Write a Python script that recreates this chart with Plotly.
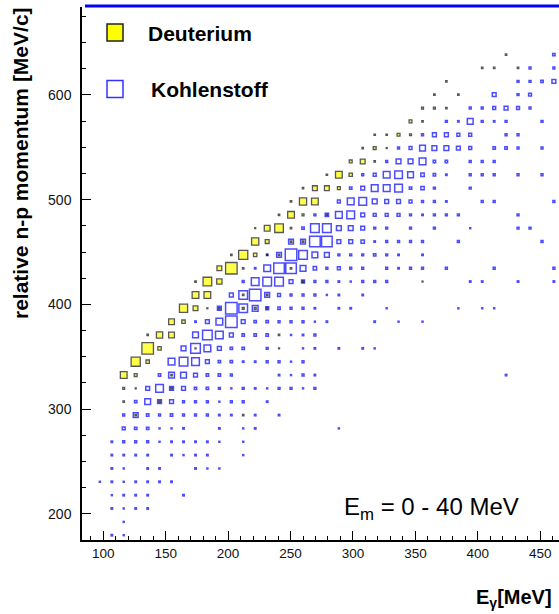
import plotly.graph_objects as go

# ---- bin centres of the 2-D histogram --------------------------------------
EG_BINS = [97.3, 106.9, 116.4, 126.0, 135.6, 145.1, 154.7, 164.3, 173.9, 183.4,
           193.0, 202.6, 212.1, 221.7, 231.3, 240.8, 250.4, 260.0, 269.5, 279.1,
           288.7, 298.2, 307.8, 317.4, 327.0, 336.5, 346.1, 355.7, 365.2, 374.8,
           384.4, 393.9, 403.5, 413.1, 422.6, 432.2, 441.8, 451.4, 460.9]
# momentum bins, listed from the top row (index 0) downwards
P_BINS = [638.5, 625.8, 613.0, 600.3, 587.5, 574.8, 562.0, 549.3, 536.5, 523.8,
          511.0, 498.3, 485.5, 472.8, 460.0, 447.3, 434.5, 421.8, 409.0, 396.3,
          383.5, 370.8, 358.0, 345.3, 332.5, 319.8, 307.1, 294.3, 281.6, 268.8,
          256.1, 243.3, 230.6, 217.8, 205.1, 192.3, 179.6]

# ---- Deuterium: momentum-bin index, Eγ-bin index, bin content ------------
DEUT_P_IDX = [0,
              1, 1, 1,
              2,
              3, 3,
              4, 4, 4,
              5, 5,
              6, 6, 6, 6,
              7, 7, 7,
              8, 8, 8,
              9, 9, 9,
              10, 10, 10, 10,
              11, 11, 11,
              12, 12, 12, 12,
              13, 13, 13, 13,
              14, 14, 14, 14,
              15, 15, 15, 15, 15,
              16, 16, 16, 16,
              17, 17, 17, 17, 17,
              18, 18, 18, 18,
              19, 19, 19, 19, 19, 19, 19,
              20, 20,
              21, 21, 21, 21,
              22, 22, 22, 22,
              23, 23,
              24, 24, 24,
              25, 25, 25,
              26, 26,
              27, 27]
DEUT_EG_IDX = [34,
               32, 33, 35,
               29,
               28, 30,
               27, 28, 29,
               26, 27,
               23, 24, 25, 26,
               22, 23, 24,
               21, 22, 23,
               19, 20, 21,
               17, 18, 19, 20,
               16, 17, 18,
               15, 16, 17, 19,
               13, 14, 15, 16,
               13, 14, 16, 17,
               11, 12, 13, 14, 15,
               10, 11, 12, 16,
               8, 9, 10, 17, 27,
               8, 9, 12, 14,
               7, 8, 9, 10, 12, 13, 14,
               6, 7,
               4, 5, 6, 15,
               4, 5, 8, 15,
               3, 4,
               2, 3, 6,
               2, 3, 6,
               2, 5,
               3, 12]
DEUT_CONTENT = [3,
                3, 3, 3,
                3,
                3, 3,
                4, 4, 3,
                6, 3,
                3, 3, 6, 4,
                3, 6, 2,
                6, 10, 3,
                3, 14, 7,
                3, 10, 10, 6,
                3, 15, 14,
                3, 14, 4, 2,
                2, 12, 18, 3,
                15, 8, 3, 3,
                3, 19, 7, 2, 3,
                10, 24, 3, 3,
                3, 18, 11, 3, 2,
                14, 14, 3, 3,
                17, 10, 2, 3, 4, 4, 2,
                12, 7,
                3, 13, 12, 3,
                24, 7, 2, 2,
                19, 7,
                14, 6, 3,
                4, 2, 3,
                3, 3,
                3, 3]

# ---- Kohlenstoff (carbon) ---------------------------------------------------
C_P_IDX = ([0] + [1] * 2 + [2] * 4 + [3] * 3 + [4] * 6 + [5] * 7 + [6] * 7
           + [7] * 11 + [8] * 9 + [9] * 13 + [10] * 9 + [11] * 13 + [12] * 14
           + [13] * 13 + [14] * 14 + [15] * 13 + [16] * 17 + [17] * 17
           + [18] * 11 + [19] * 15 + [20] * 15 + [21] * 10 + [22] * 12
           + [23] * 12 + [24] * 12 + [25] * 15 + [26] * 11 + [27] * 12
           + [28] * 10 + [29] * 11 + [30] * 9 + [31] * 7 + [32] * 7 + [33] * 5
           + [34] * 4 + [35] * 1 + [36] * 2)
C_EG_IDX = [38,
            36, 38,
            35, 36, 37, 38,
            33, 35, 36,
            31, 32, 33, 34, 35, 36,
            29, 30, 31, 32, 33, 34, 37,
            27, 28, 29, 30, 31, 34, 35,
            25, 26, 27, 28, 29, 30, 31, 33, 34, 35, 37,
            24, 25, 26, 27, 28, 29, 31, 32, 33,
            22, 23, 24, 25, 26, 27, 28, 29, 31, 32, 33, 35, 37,
            21, 22, 23, 24, 25, 26, 27, 28, 31,
            20, 21, 22, 23, 24, 25, 26, 27, 28, 29, 32, 33, 38,
            18, 19, 20, 21, 22, 23, 24, 25, 26, 27, 28, 29, 30, 35,
            17, 18, 19, 20, 21, 22, 23, 24, 26, 28, 31, 35, 36,
            16, 17, 18, 19, 20, 21, 22, 23, 24, 25, 26, 27, 30, 37,
            14, 15, 16, 17, 18, 19, 20, 21, 22, 23, 24, 25, 27,
            13, 14, 15, 16, 17, 18, 19, 20, 21, 22, 24, 25, 26, 27, 29, 33, 38,
            12, 13, 14, 15, 16, 17, 18, 19, 20, 21, 22, 23, 24, 31, 32, 35, 38,
            11, 12, 13, 14, 15, 16, 17, 18, 19, 20, 22,
            10, 11, 12, 13, 14, 15, 16, 17, 18, 20, 21, 24, 30, 32, 33,
            8, 9, 10, 11, 12, 13, 14, 15, 16, 17, 18, 19, 23, 25, 27,
            8, 9, 10, 11, 12, 13, 14, 16, 17, 18,
            7, 8, 9, 10, 11, 12, 14, 17, 18, 20, 22, 23,
            6, 7, 8, 9, 10, 11, 12, 13, 14, 15, 16, 17,
            5, 6, 7, 8, 9, 10, 11, 15, 16, 17, 18, 34,
            4, 5, 6, 7, 8, 9, 10, 11, 12, 13, 14, 15, 16, 17, 18,
            3, 4, 5, 6, 7, 8, 9, 10, 11, 12, 14,
            2, 3, 4, 5, 6, 7, 8, 9, 10, 11, 13, 15,
            2, 3, 4, 5, 6, 7, 10, 12, 13, 20,
            1, 2, 3, 4, 5, 6, 7, 8, 9, 10, 12,
            1, 2, 3, 4, 6, 7, 8, 9, 12,
            1, 2, 4, 5, 8, 9, 10,
            0, 1, 2, 3, 4, 5, 6,
            1, 2, 3, 4, 7,
            1, 2, 3, 4,
            2,
            1, 2]
C_CONTENT = [5,
             4, 4,
             4, 4, 5, 8,
             8, 4, 6,
             4, 4, 6, 8, 6, 4,
             4, 3, 12, 4, 3, 4, 4,
             4, 8, 8, 6, 6, 4, 4,
             4, 6, 12, 10, 10, 8, 6, 5, 5, 4, 4,
             4, 10, 10, 14, 5, 5, 4, 4, 4,
             4, 6, 14, 16, 12, 7, 5, 3, 4, 4, 4, 4, 4,
             5, 8, 14, 14, 16, 5, 7, 4, 4,
             6, 14, 16, 10, 8, 8, 6, 4, 4, 3, 4, 4, 4,
             4, 7, 14, 16, 8, 6, 6, 6, 4, 3, 4, 4, 4, 4,
             5, 18, 18, 10, 10, 8, 4, 4, 4, 4, 2, 4, 4,
             10, 10, 22, 22, 8, 8, 7, 3, 4, 4, 4, 4, 4, 4,
             3, 10, 24, 18, 12, 10, 4, 4, 4, 5, 4, 3, 3,
             3, 14, 22, 22, 12, 7, 4, 6, 4, 4, 4, 3, 4, 4, 4, 4, 4,
             4, 16, 18, 18, 8, 6, 4, 4, 3, 2, 4, 4, 4, 3, 3, 3, 3,
             8, 18, 24, 10, 6, 4, 4, 4, 2, 3, 3,
             8, 24, 18, 12, 6, 5, 4, 4, 3, 3, 3, 2, 2, 2, 2,
             3, 8, 14, 24, 8, 5, 5, 4, 4, 4, 2, 3, 3, 2, 2,
             12, 20, 16, 8, 5, 5, 5, 2, 3, 4,
             10, 20, 14, 8, 5, 5, 4, 2, 3, 3, 3, 2,
             14, 18, 16, 8, 5, 5, 3, 3, 4, 4, 2, 4,
             5, 12, 12, 8, 5, 5, 4, 3, 2, 4, 3, 3,
             8, 16, 8, 8, 5, 5, 4, 2, 4, 3, 2, 4, 4, 2, 4,
             5, 12, 8, 8, 4, 4, 4, 2, 4, 4, 3,
             4, 10, 5, 4, 5, 4, 4, 4, 3, 3, 3, 3,
             6, 5, 5, 2, 2, 3, 3, 2, 3, 2,
             3, 4, 4, 4, 2, 3, 3, 3, 3, 2, 2,
             3, 3, 3, 3, 3, 2, 3, 3, 2,
             3, 2, 3, 3, 3, 2, 2,
             2, 3, 2, 3, 3, 3, 3,
             2, 3, 3, 3, 3,
             3, 2, 3, 3,
             2,
             3, 2]

SIZE_PER_COUNT = 0.48   # px of box side per unit of bin content

# ---- figure geometry (pixels) ------------------------------------------
W, H = 559, 614
ML, MR, MT, MB = 82, 0, 7, 74
PW, PH = W - ML - MR, H - MT - MB


def px(x):
    return (x - ML) / PW


def py(y):
    return (H - MB - y) / PH


FONT = "Liberation Sans, Arial, Helvetica, sans-serif"

fig = go.Figure()
fig.add_trace(go.Scatter(
    x=[EG_BINS[i] for i in C_EG_IDX],
    y=[P_BINS[j] for j in C_P_IDX],
    mode="markers", name="Kohlenstoff", showlegend=False,
    marker=dict(symbol="square-open", color="#0000ff",
                size=[c * SIZE_PER_COUNT for c in C_CONTENT],
                line=dict(width=1.5, color="#0000ff")),
    hoverinfo="skip"))
fig.add_trace(go.Scatter(
    x=[EG_BINS[i] for i in DEUT_EG_IDX],
    y=[P_BINS[j] for j in DEUT_P_IDX],
    mode="markers", name="Deuterium", showlegend=False,
    marker=dict(symbol="square", color="#ffff00",
                size=[c * SIZE_PER_COUNT for c in DEUT_CONTENT],
                line=dict(width=1.3, color="#111111")),
    hoverinfo="skip"))

shapes = [
    # blue top border line
    dict(type="line", xref="paper", yref="paper", x0=px(85), x1=px(559),
         y0=py(6), y1=py(6), line=dict(color="#0000ff", width=3)),
    # legend boxes
    dict(type="rect", xref="paper", yref="paper", x0=px(107), x1=px(123),
         y0=py(41), y1=py(24), fillcolor="#ffff00",
         line=dict(color="#222222", width=1.5)),
    dict(type="rect", xref="paper", yref="paper", x0=px(107), x1=px(123),
         y0=py(97.5), y1=py(80.5), fillcolor="rgba(0,0,0,0)",
         line=dict(color="#3333ff", width=1.5)),
]

annotations = [
    dict(text="Deuterium", x=px(146), y=py(33.5), xref="paper", yref="paper",
         xanchor="left", yanchor="middle", showarrow=False,
         font=dict(family=FONT, size=21, color="black", weight="bold")),
    dict(text="Kohlenstoff", x=px(149), y=py(90), xref="paper", yref="paper",
         xanchor="left", yanchor="middle", showarrow=False,
         font=dict(family=FONT, size=21, color="black", weight="bold")),
    dict(text="E<sub>m</sub> = 0 - 40 MeV", x=px(342), y=py(508),
         xref="paper", yref="paper", xanchor="left", yanchor="middle",
         showarrow=False, font=dict(family=FONT, size=24, color="black")),
    dict(text="relative n-p momentum [MeV/c]", x=px(20), y=py(163),
         xref="paper", yref="paper", xanchor="center", yanchor="middle",
         textangle=-90, showarrow=False,
         font=dict(family=FONT, size=21, color="black", weight="bold")),
    dict(text="E<sub>γ</sub>[MeV]", x=px(554), y=py(598), xref="paper",
         yref="paper", xanchor="right", yanchor="middle", showarrow=False,
         font=dict(family=FONT, size=20, color="black", weight="bold")),
]

fig.update_layout(
    width=W, height=H,
    margin=dict(l=ML, r=MR, t=MT, b=MB, pad=0),
    paper_bgcolor="white", plot_bgcolor="white",
    shapes=shapes, annotations=annotations,
    showlegend=False,
    xaxis=dict(range=[83.0, 465.0], showgrid=False, zeroline=False,
               showline=True, linecolor="black", linewidth=1.5,
               ticks="inside", ticklen=9, tickwidth=1.3, tickcolor="black",
               tick0=0, dtick=50, ticklabelstandoff=0,
               tickfont=dict(family=FONT, size=13.5, color="#111111"),
               minor=dict(ticks="inside", ticklen=4.5, tickwidth=1.1,
                          tickcolor="black", dtick=10, showgrid=False)),
    yaxis=dict(range=[175.0, 684.0], showgrid=False, zeroline=False,
               showline=True, linecolor="black", linewidth=1.5,
               ticks="inside", ticklen=9, tickwidth=1.3, tickcolor="black",
               tick0=0, dtick=100, ticklabelstandoff=6,
               tickfont=dict(family=FONT, size=14, color="#111111"),
               minor=dict(ticks="inside", ticklen=4.5, tickwidth=1.1,
                          tickcolor="black", dtick=25, showgrid=False)),
)

fig.write_html(
    "out.html",
    config={"displayModeBar": False},
    post_script="document.body.style.margin='0';"
                "document.body.style.padding='0';"
                "document.body.style.overflow='hidden';",
)
